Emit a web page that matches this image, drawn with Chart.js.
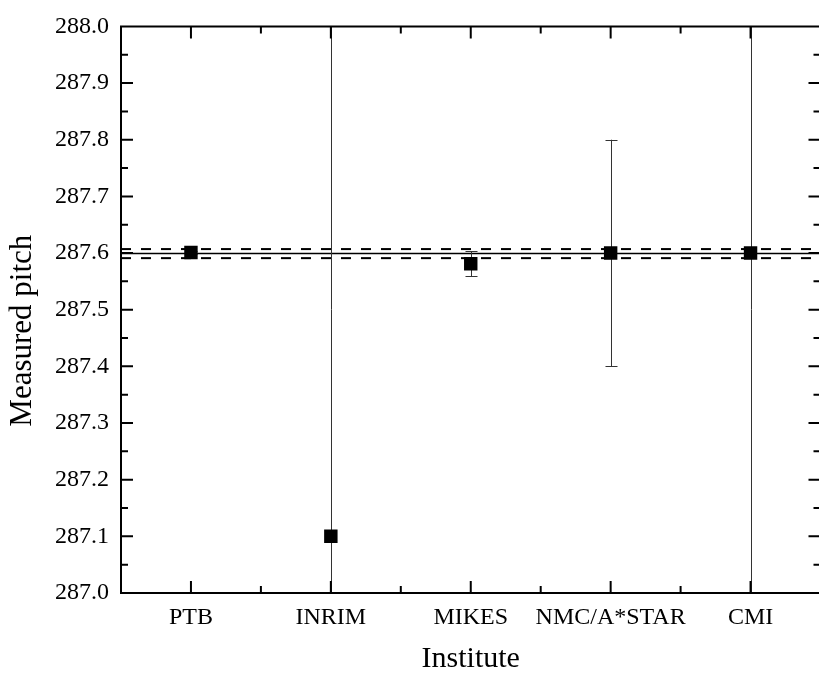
<!DOCTYPE html>
<html>
<head>
<meta charset="utf-8">
<script src="https://cdn.jsdelivr.net/npm/chart.js@4.4.1/dist/chart.umd.min.js"></script>
<style>
    html, body { margin: 0; padding: 0; background: #fff; overflow: hidden; }
    #frame { width: 819px; height: 677px; overflow: hidden; }
    #pitchChart { display: block; }
</style>
</head>
<body>
<div id="frame"><canvas id="pitchChart" width="830" height="677"></canvas></div>
<script>
"use strict";

/**----------------------------------------------------------------------
 * [Chart data: institutes, measured pitch and its uncertainty]
 *--------------------------------------------------------------*/
const institutes = ['PTB', 'INRIM', 'MIKES', 'NMC/A*STAR', 'CMI'];
const pitchValues = [287.601, 287.100, 287.581, 287.600, 287.600];
const pitchErrors = [0.003, 1.000, 0.022, 0.200, 1.000];

// reference value with its band (dashed lines)
const referenceValue = 287.599;
const referenceBand = 0.008;

const yMin = 287.0;
const yMax = 288.0;
const yTitle = 'Measured pitch';

const serif = "'Liberation Serif', 'Times New Roman', serif";

/**----------------------------------------------------------------------
 * [Reference line, error bars, y title and the boxed axes with inward ticks]
 *--------------------------------------------------------------*/
const pitchDecorations = {
    id: 'pitchDecorations',

    beforeDatasetsDraw(chart) {
        const ctx = chart.ctx;
        const area = chart.chartArea;
        const xs = chart.scales.x;
        const ys = chart.scales.y;

        ctx.save();
        ctx.beginPath();
        ctx.rect(area.left, area.top, area.right - area.left, area.bottom - area.top);
        ctx.clip();

        // reference value and dashed band
        ctx.strokeStyle = '#000';
        ctx.lineWidth = 1.5;
        ctx.setLineDash([]);
        let y = ys.getPixelForValue(referenceValue);
        ctx.beginPath();
        ctx.moveTo(area.left, y);
        ctx.lineTo(area.right, y);
        ctx.stroke();

        ctx.lineWidth = 2;
        ctx.setLineDash([10, 10]);
        [referenceValue + referenceBand, referenceValue - referenceBand].forEach(function(v) {
            const yy = ys.getPixelForValue(v);
            ctx.beginPath();
            ctx.moveTo(area.left, yy);
            ctx.lineTo(area.right, yy);
            ctx.stroke();
        });
        ctx.setLineDash([]);

        // error bars
        ctx.strokeStyle = '#333';
        ctx.lineWidth = 1;
        for (let i = 0; i < pitchValues.length; i++) {
            const x = Math.round(xs.getPixelForValue(i + 1)) + 0.5;
            const yTop = ys.getPixelForValue(pitchValues[i] + pitchErrors[i]);
            const yBot = ys.getPixelForValue(pitchValues[i] - pitchErrors[i]);
            ctx.beginPath();
            ctx.moveTo(x, yTop);
            ctx.lineTo(x, yBot);
            ctx.moveTo(x - 6, Math.round(yTop) + 0.5);
            ctx.lineTo(x + 6, Math.round(yTop) + 0.5);
            ctx.moveTo(x - 6, Math.round(yBot) + 0.5);
            ctx.lineTo(x + 6, Math.round(yBot) + 0.5);
            ctx.stroke();
        }
        ctx.restore();
    },

    afterDraw(chart) {
        const ctx = chart.ctx;
        const area = chart.chartArea;
        const xs = chart.scales.x;
        const ys = chart.scales.y;
        const major = 12;
        const minor = 7;

        ctx.save();
        ctx.strokeStyle = '#000';
        ctx.lineWidth = 2;
        ctx.beginPath();
        ctx.rect(area.left, area.top, area.right - area.left, area.bottom - area.top);
        ctx.stroke();

        ctx.beginPath();
        // x ticks: categories are major, half steps are minor
        for (let v = 1; v <= 10; v++) {
            const x = xs.getPixelForValue(v / 2);
            if (x <= area.left + 1 || x >= area.right - 1) continue;
            const len = (v % 2 === 0) ? major : minor;
            ctx.moveTo(x, area.bottom);
            ctx.lineTo(x, area.bottom - len);
            ctx.moveTo(x, area.top);
            ctx.lineTo(x, area.top + len);
        }
        // y ticks: every 0.1 major, every 0.05 minor
        for (let k = 1; k < 20; k++) {
            const y = ys.getPixelForValue(yMin + k * 0.05);
            const len = (k % 2 === 0) ? major : minor;
            ctx.moveTo(area.left, y);
            ctx.lineTo(area.left + len, y);
            ctx.moveTo(area.right, y);
            ctx.lineTo(area.right - len, y);
        }
        ctx.stroke();

        // y axis title, sitting a little below the axis middle
        ctx.translate(23, (area.top + area.bottom) / 2 + 21);
        ctx.rotate(-Math.PI / 2);
        ctx.fillStyle = '#000';
        ctx.font = "31px " + serif;
        ctx.textAlign = 'center';
        ctx.textBaseline = 'middle';
        ctx.fillText(yTitle, 0, 0);
        ctx.restore();
    }
};

/**----------------------------------------------------------------------
 * [Chart initialization]
 *--------------------------------------------------------------*/
new Chart(document.getElementById('pitchChart').getContext('2d'), {
    type: 'scatter',
    data: {
        datasets: [{
            label: yTitle,
            data: pitchValues.map(function(v, i) { return { x: i + 1, y: v }; }),
            pointStyle: 'rect',
            pointRadius: 9.5,
            pointHoverRadius: 9.5,
            backgroundColor: '#000',
            borderColor: '#000',
            borderWidth: 0
        }]
    },
    options: {
        responsive: false,
        animation: false,
        events: [],
        layout: {
            padding: { top: 21, right: 4, left: 0, bottom: 0 }
        },
        plugins: {
            legend: { display: false },
            tooltip: { enabled: false }
        },
        scales: {
            x: {
                type: 'linear',
                min: 0.5,
                max: 5.5,
                grid: { display: false, drawTicks: false },
                border: { display: false },
                afterBuildTicks: function(scale) {
                    scale.ticks = institutes.map(function(name, i) { return { value: i + 1 }; });
                },
                afterFit: function(scale) { scale.height = 84; },
                ticks: {
                    padding: 10,
                    color: '#000',
                    font: { family: serif, size: 24 },
                    maxRotation: 0,
                    autoSkip: false,
                    callback: function(value) {
                        return institutes[Math.round(value) - 1] || '';
                    }
                },
                title: {
                    display: true,
                    text: 'Institute',
                    color: '#000',
                    font: { family: serif, size: 30 },
                    padding: { top: 0, bottom: 0 }
                }
            },
            y: {
                min: yMin,
                max: yMax,
                grid: { display: false, drawTicks: false },
                border: { display: false },
                afterFit: function(scale) { scale.width = 121; },
                ticks: {
                    stepSize: 0.1,
                    padding: 12,
                    color: '#000',
                    font: { family: serif, size: 24 },
                    callback: function(value) { return value.toFixed(1); }
                },
                title: { display: false }
            }
        }
    },
    plugins: [pitchDecorations]
});
</script>
</body>
</html>
